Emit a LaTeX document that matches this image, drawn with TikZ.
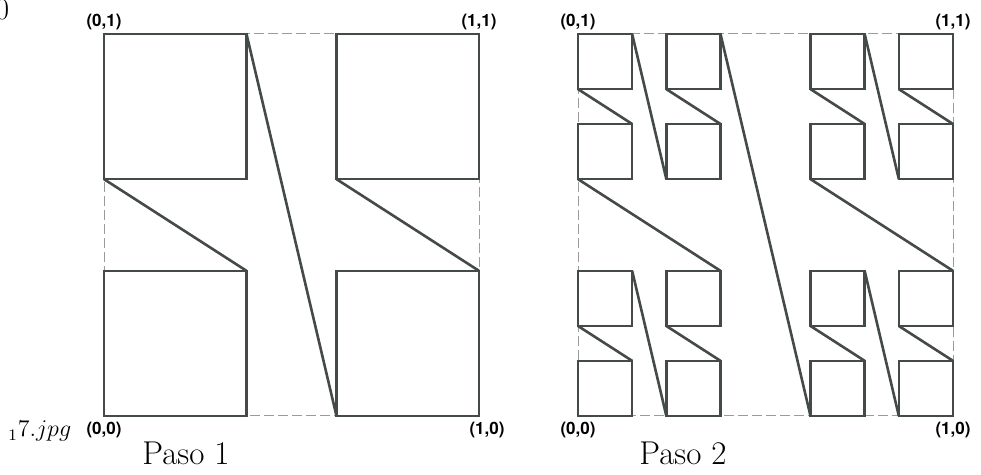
\documentclass[tikz,border=0pt]{standalone}
\usepackage{fontspec}
\newfontfamily\etiqfont{TeX Gyre Heros}
\usepackage{tikz}
\definecolor{trazo}{RGB}{68,74,70}
\definecolor{guia}{RGB}{155,155,155}
\tikzset{
    curva/.style={draw=trazo, line width=1.3pt},
    borde/.style={draw=guia, line width=0.5pt, dash pattern=on 5pt off 2pt},
    esquina/.style={font=\etiqfont\bfseries\fontsize{8.5}{10}\selectfont, inner sep=0pt, outer sep=0pt},
    titulo/.style={font=\fontsize{16.5}{19}\selectfont, inner sep=0pt}
}
\newcommand{\lado}{0.38}
% the four squares and the three links of one step
\newcommand{\cuadros}{%
    \draw[curva] (0,0) rectangle (\lado,\lado);
    \draw[curva] (0,1-\lado) rectangle (\lado,1);
    \draw[curva] (1-\lado,0) rectangle (1,\lado);
    \draw[curva] (1-\lado,1-\lado) rectangle (1,1);
}
\newcommand{\enlaces}{%
    \draw[curva] (\lado,\lado) -- (0,1-\lado);
    \draw[curva] (\lado,1) -- (1-\lado,0);
    \draw[curva] (1,\lado) -- (1-\lado,1-\lado);
}
\newcommand{\pasouno}{\cuadros\enlaces}

\begin{document}
\begin{tikzpicture}[x=0.5pt, y=0.5pt]
    \useasboundingbox (0,0) rectangle (981,475);
    \node[titulo, font=\fontsize{15}{18}\selectfont, anchor=base east] (cero) at (9.6,455) {0};
    \node[anchor=base west, inner sep=0pt, font=\fontsize{12}{14}\selectfont] (archivo) at (8,38) {$_17.jpg$};

    % Paso 1
    \begin{scope}[shift={(104,59)}, x=187.5pt, y=191pt]
        \draw[borde] (0,0) rectangle (1,1);
        \pasouno
        \node[esquina, above=2pt] (ua) at (0,1) {(0,1)};
        \node[esquina, above=2pt] (ub) at (1,1) {(1,1)};
        \node[esquina, below=3pt] (uc) at (0,0) {(0,0)};
        \node[esquina, below=3pt, xshift=4pt] (ud) at (1,0) {(1,0)};
    \end{scope}
    \node[titulo, anchor=base] (paso1) at (186,10) {Paso 1};

    % Paso 2
    \begin{scope}[shift={(578,59)}, x=187.5pt, y=191pt]
        \draw[borde] (0,0) rectangle (1,1);
        \foreach \px/\py in {0/0, 0/1-\lado, 1-\lado/0, 1-\lado/1-\lado}
        {
            \begin{scope}[shift={(\px,\py)}, scale=\lado]
                \pasouno
            \end{scope}
        }
        \enlaces
        \node[esquina, above=2pt] (da) at (0,1) {(0,1)};
        \node[esquina, above=2pt] (db) at (1,1) {(1,1)};
        \node[esquina, below=3pt] (dc) at (0,0) {(0,0)};
        \node[esquina, below=3pt] (dd) at (1,0) {(1,0)};
    \end{scope}
    \node[titulo, anchor=base] (paso2) at (683,10) {Paso 2};
\end{tikzpicture}
\end{document}
